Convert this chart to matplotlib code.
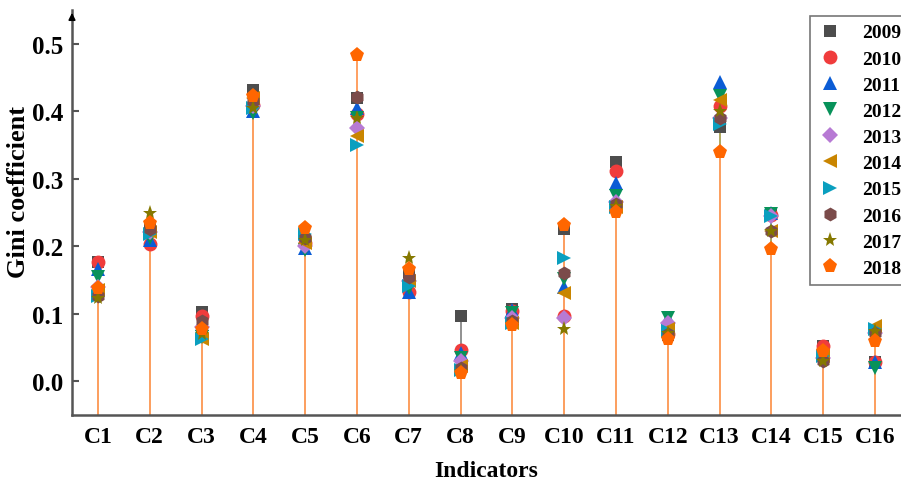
import numpy as np
import matplotlib
matplotlib.use("Agg")
import matplotlib.pyplot as plt
from matplotlib.colors import to_rgb

plt.rcParams['font.family'] = ['Liberation Serif', 'DejaVu Serif']
plt.rcParams['font.weight'] = 'bold'

indicators = ['C1', 'C2', 'C3', 'C4', 'C5', 'C6', 'C7', 'C8',
              'C9', 'C10', 'C11', 'C12', 'C13', 'C14', 'C15', 'C16']
years = ['2009', '2010', '2011', '2012', '2013', '2014', '2015', '2016', '2017', '2018']

# gini coefficient per year, one value per indicator C1..C16
g2009 = [0.177, 0.230, 0.103, 0.432, 0.210, 0.420, 0.160, 0.097, 0.107, 0.226, 0.325, 0.068, 0.376, 0.248, 0.052, 0.028]
g2010 = [0.177, 0.203, 0.097, 0.410, 0.205, 0.396, 0.132, 0.047, 0.104, 0.097, 0.312, 0.070, 0.408, 0.247, 0.052, 0.028]
g2011 = [0.166, 0.210, 0.085, 0.400, 0.197, 0.405, 0.132, 0.042, 0.105, 0.140, 0.293, 0.094, 0.443, 0.250, 0.040, 0.028]
g2012 = [0.155, 0.212, 0.066, 0.398, 0.195, 0.390, 0.138, 0.035, 0.101, 0.151, 0.275, 0.094, 0.422, 0.248, 0.035, 0.020]
g2013 = [0.140, 0.221, 0.080, 0.408, 0.200, 0.375, 0.149, 0.030, 0.094, 0.093, 0.265, 0.087, 0.390, 0.245, 0.035, 0.071]
g2014 = [0.135, 0.221, 0.062, 0.420, 0.205, 0.363, 0.149, 0.023, 0.087, 0.131, 0.258, 0.077, 0.416, 0.222, 0.038, 0.082]
g2015 = [0.127, 0.218, 0.063, 0.405, 0.218, 0.350, 0.141, 0.017, 0.086, 0.183, 0.258, 0.075, 0.381, 0.245, 0.038, 0.078]
g2016 = [0.126, 0.225, 0.090, 0.415, 0.212, 0.421, 0.155, 0.020, 0.090, 0.161, 0.262, 0.070, 0.390, 0.222, 0.030, 0.071]
g2017 = [0.124, 0.249, 0.070, 0.405, 0.210, 0.390, 0.183, 0.015, 0.085, 0.077, 0.260, 0.072, 0.401, 0.222, 0.030, 0.075]
g2018 = [0.138, 0.234, 0.077, 0.422, 0.227, 0.484, 0.167, 0.012, 0.083, 0.231, 0.251, 0.062, 0.340, 0.196, 0.045, 0.060]
series = [g2009, g2010, g2011, g2012, g2013, g2014, g2015, g2016, g2017, g2018]

colors = ['#4d4d4d', '#f03c3c', '#0b5cd5', '#08925a', '#b77ad4',
          '#c98500', '#0a9fbf', '#7b4b4a', '#857800', '#ff6600']
markers = ['s', 'o', '^', 'v', 'D', '<', '>', 'h', '*', 'p']
sizes = [9, 10, 10, 10, 8, 10, 10, 10, 11, 11]


def tint(c, f=0.62):
    r, g, b = to_rgb(c)
    return (r * f + 1 - f, g * f + 1 - f, b * f + 1 - f)


fig = plt.figure(figsize=(9.01, 4.85), dpi=100)
ax = fig.add_axes([72 / 901, 1 - 416 / 485, 1 - 72 / 901, (416 - 11) / 485])

x = np.arange(1, len(indicators) + 1)
base = -0.05
# drop lines, later years drawn over earlier ones
for vals, c in zip(series, colors):
    ax.vlines(x, base, vals, colors=[tint(c)], linewidth=1.4, zorder=1)
for vals, c, m, s, yr in zip(series, colors, markers, sizes, years):
    ax.plot(x, vals, linestyle='none', marker=m, markersize=s, color=c,
            markeredgewidth=0, label=yr, zorder=3)

ax.set_xlim(0.5, 16.5)
ax.set_ylim(base, 0.55)
ax.set_xticks(x)
ax.set_xticklabels(indicators)
ax.set_yticks([0.0, 0.1, 0.2, 0.3, 0.4, 0.5])
ax.set_yticklabels(['0.0', '0.1', '0.2', '0.3', '0.4', '0.5'])
ax.tick_params(axis='y', direction='in', length=5, width=1.5, color='#555555',
               labelsize=18, pad=6)
ax.tick_params(axis='x', length=0, labelsize=17, pad=8)

for sp in ['top', 'right']:
    ax.spines[sp].set_visible(False)
for sp in ['left', 'bottom']:
    ax.spines[sp].set_color('#555555')
    ax.spines[sp].set_linewidth(1.8)

# arrow head at the top of the y axis
ax.annotate('', xy=(0, 1.0), xytext=(0, 0.97), xycoords='axes fraction',
            arrowprops=dict(arrowstyle='-|>', color='black', lw=1.2,
                            mutation_scale=10), annotation_clip=False)

ax.set_xlabel('Indicators', fontsize=17, fontweight='bold')
ax.set_ylabel('Gini coefficient', fontsize=19, fontweight='bold')
ax.xaxis.set_label_coords(0.5, -(472 - 416) / 405, transform=ax.transAxes)
ax.yaxis.set_label_coords(-(72 - 19) / 829, (416 - 192) / 405)
ax.xaxis.label.set_va('center')
ax.yaxis.label.set_va('center')

leg = ax.legend(loc='upper left', bbox_to_anchor=(810 / 901, 1 - 17 / 485),
                bbox_transform=fig.transFigure, borderaxespad=0, fontsize=14,
                frameon=True, fancybox=False, edgecolor='#555555',
                labelspacing=0.44, handletextpad=1.0, borderpad=0.4,
                handlelength=1.3)
leg.get_frame().set_linewidth(1.2)

fig.savefig('out.png', dpi=100)
